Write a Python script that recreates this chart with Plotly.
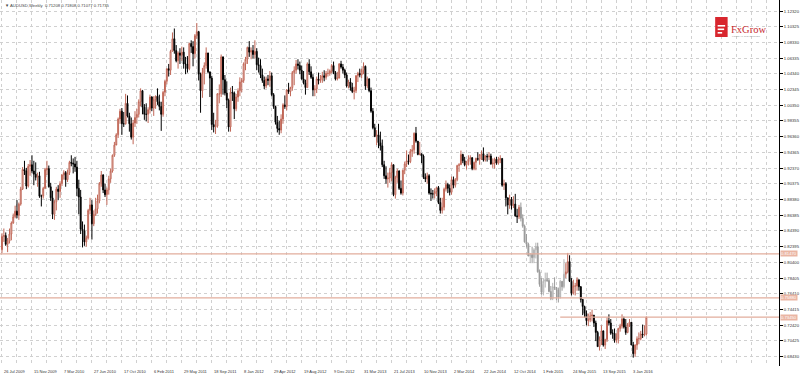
import plotly.graph_objects as go
import pandas as pd

# ---------------- data (AUDUSD weekly) ----------------
first_open = 0.8200
close = [
0.8370,0.8380,0.8270,0.8310,0.8400,0.8540,0.8620,0.8690,0.8640,0.8780,
0.8970,0.9220,0.9200,0.9010,0.9260,0.9280,0.9200,0.9160,0.9120,0.9140,
0.8880,0.8880,0.8980,0.9220,0.9230,0.9000,0.8860,0.8650,0.8810,0.8970,
0.8940,0.9040,0.9150,0.9180,0.9090,0.9180,0.9310,0.9300,0.9290,0.9250,
0.8980,0.8870,0.8460,0.8440,0.8300,0.8350,0.8700,0.8770,0.8530,0.8650,
0.8720,0.8820,0.9040,0.9150,0.8960,0.8900,0.8960,0.9100,0.9200,0.9400,
0.9530,0.9660,0.9860,0.9960,0.9800,0.9800,1.0060,0.9900,0.9800,0.9630,
0.9810,0.9880,0.9920,1.0080,1.0220,1.0010,0.9920,0.9920,0.9980,1.0140,
1.0000,1.0110,1.0150,1.0080,1.0020,0.9920,1.0200,1.0340,1.0500,1.0480,
1.0720,1.0880,1.0730,1.0600,1.0700,1.0670,1.0710,1.0560,1.0560,1.0500,
1.0820,1.0780,1.0690,1.0920,1.0970,1.0430,1.0220,1.0450,1.0540,1.0700,
1.0460,1.0380,0.9790,0.9760,0.9770,1.0180,1.0180,1.0650,1.0360,1.0190,
1.0100,0.9760,1.0200,1.0190,0.9990,1.0140,1.0220,1.0330,1.0350,1.0560,
1.0620,1.0770,1.0710,1.0730,1.0680,1.0720,1.0550,1.0540,1.0420,1.0350,
1.0280,1.0370,1.0350,1.0410,1.0170,1.0020,0.9820,0.9740,0.9720,0.9860,
1.0040,1.0020,1.0230,1.0210,1.0260,1.0450,1.0480,1.0560,1.0540,1.0480,
1.0370,1.0320,1.0260,1.0560,1.0460,1.0390,1.0230,1.0240,1.0370,1.0350,
1.0360,1.0410,1.0390,1.0440,1.0440,1.0470,1.0540,1.0450,1.0370,1.0380,
1.0560,1.0520,1.0480,1.0420,1.0280,1.0330,1.0260,1.0210,1.0220,1.0410,
1.0440,1.0420,1.0480,1.0530,1.0280,1.0370,1.0220,0.9960,0.9750,0.9640,
0.9660,0.9560,0.9520,0.9280,0.9140,0.9100,0.9110,0.9180,0.9280,0.8900,
0.9120,0.9200,0.8980,0.8920,0.9210,0.9290,0.9330,0.9320,0.9450,0.9470,
0.9680,0.9580,0.9410,0.9420,0.9390,0.9120,0.9100,0.9140,0.8920,0.8910,
0.8910,0.8940,0.8990,0.8800,0.8700,0.8740,0.8970,0.9030,0.8980,0.8930,
0.9090,0.9020,0.9090,0.9270,0.9280,0.9410,0.9330,0.9280,0.9320,0.9350,
0.9370,0.9230,0.9310,0.9360,0.9350,0.9410,0.9420,0.9340,0.9390,0.9380,
0.9390,0.9290,0.9300,0.9350,0.9300,0.9340,0.9360,0.9020,0.9040,0.8860,
0.8770,0.8840,0.8760,0.8780,0.8630,0.8620,0.8740,0.8600,0.8500,0.8300,
0.8270,0.8120,0.8140,0.8100,0.8200,0.8240,0.7920,0.7760,0.7660,0.7800,
0.7820,0.7810,0.7670,0.7580,0.7730,0.7720,0.7690,0.7600,0.7800,0.7730,
0.7890,0.7920,0.8050,0.7800,0.7650,0.7740,0.7740,0.7820,0.7730,0.7570,
0.7480,0.7390,0.7300,0.7310,0.7360,0.7370,0.7270,0.7150,0.6970,0.7060,
0.7170,0.6990,0.7060,0.7300,0.7270,0.7140,0.7140,0.7050,0.7070,0.7200,
0.7230,0.7320,0.7220,0.7150,0.7250,0.7280,0.6990,0.6880,0.6990,0.7070,
0.7070,0.7130,0.7120,0.7130,0.7345]
high = [
0.8410,0.8470,0.8420,0.8350,0.8470,0.8560,0.8660,0.8760,0.8830,0.8800,
0.9000,0.9250,0.9330,0.9240,0.9290,0.9340,0.9400,0.9330,0.9310,0.9180,
0.9190,0.8900,0.9000,0.9240,0.9330,0.9270,0.9050,0.8950,0.8830,0.9000,
0.9020,0.9070,0.9160,0.9210,0.9200,0.9220,0.9330,0.9400,0.9360,0.9380,
0.9330,0.9090,0.8960,0.8560,0.8520,0.8380,0.8720,0.8860,0.8830,0.8700,
0.8860,0.8900,0.9060,0.9200,0.9160,0.9040,0.8990,0.9140,0.9230,0.9410,
0.9570,0.9680,0.9880,0.9990,1.0000,0.9950,1.0180,1.0160,0.9940,0.9880,
0.9850,0.9960,0.9990,1.0110,1.0250,1.0230,1.0050,1.0060,1.0010,1.0170,
1.0150,1.0150,1.0160,1.0250,1.0170,1.0080,1.0220,1.0360,1.0500,1.0560,
1.0740,1.0960,1.1010,1.0800,1.0720,1.0760,1.0780,1.0770,1.0650,1.0660,
1.0830,1.0860,1.0850,1.0940,1.1080,1.0980,1.0450,1.0510,1.0580,1.0770,
1.0700,1.0460,1.0410,0.9940,0.9850,1.0190,1.0300,1.0680,1.0640,1.0420,
1.0340,1.0120,1.0260,1.0280,1.0210,1.0180,1.0250,1.0390,1.0380,1.0580,
1.0650,1.0780,1.0850,1.0770,1.0800,1.0860,1.0760,1.0640,1.0620,1.0500,
1.0400,1.0400,1.0420,1.0470,1.0450,1.0190,1.0030,0.9900,0.9840,0.9920,
1.0060,1.0160,1.0240,1.0320,1.0270,1.0470,1.0530,1.0610,1.0620,1.0590,
1.0540,1.0470,1.0360,1.0580,1.0620,1.0530,1.0430,1.0290,1.0400,1.0450,
1.0420,1.0460,1.0480,1.0470,1.0500,1.0490,1.0560,1.0590,1.0470,1.0460,
1.0570,1.0600,1.0560,1.0500,1.0450,1.0360,1.0380,1.0320,1.0270,1.0420,
1.0460,1.0500,1.0500,1.0580,1.0540,1.0400,1.0380,1.0260,1.0000,0.9800,
0.9720,0.9800,0.9700,0.9600,0.9330,0.9260,0.9180,0.9240,0.9310,0.9280,
0.9140,0.9230,0.9210,0.9080,0.9220,0.9320,0.9460,0.9410,0.9480,0.9530,
0.9690,0.9760,0.9580,0.9570,0.9420,0.9410,0.9170,0.9180,0.9160,0.8980,
0.8960,0.8980,0.9000,0.9010,0.8860,0.8860,0.8990,0.9080,0.9050,0.9030,
0.9130,0.9130,0.9110,0.9280,0.9300,0.9460,0.9420,0.9380,0.9330,0.9400,
0.9400,0.9360,0.9320,0.9370,0.9440,0.9410,0.9460,0.9500,0.9400,0.9420,
0.9440,0.9420,0.9360,0.9370,0.9380,0.9380,0.9400,0.9360,0.9090,0.9060,
0.8830,0.8900,0.8870,0.8880,0.8910,0.8720,0.8770,0.8800,0.8650,0.8520,
0.8400,0.8290,0.8160,0.8240,0.8220,0.8290,0.8290,0.7950,0.7840,0.7840,
0.7910,0.7910,0.7840,0.7740,0.7780,0.7850,0.7710,0.7720,0.7820,0.7800,
0.8080,0.8030,0.8160,0.8130,0.7840,0.7820,0.7780,0.7850,0.7820,0.7740,
0.7560,0.7490,0.7430,0.7390,0.7410,0.7440,0.7370,0.7300,0.7170,0.7100,
0.7240,0.7160,0.7070,0.7340,0.7380,0.7320,0.7190,0.7200,0.7140,0.7210,
0.7260,0.7380,0.7350,0.7320,0.7270,0.7320,0.7270,0.7030,0.7000,0.7100,
0.7150,0.7170,0.7250,0.7240,0.7350]
low = [
0.8160,0.8300,0.8250,0.8170,0.8280,0.8320,0.8530,0.8600,0.8600,0.8580,
0.8760,0.8960,0.9150,0.8970,0.8990,0.9140,0.9170,0.9020,0.9080,0.9000,
0.8860,0.8750,0.8850,0.8970,0.9150,0.8990,0.8820,0.8590,0.8580,0.8700,
0.8830,0.8860,0.9010,0.9090,0.9000,0.9060,0.9150,0.9260,0.9170,0.9190,
0.8880,0.8650,0.8400,0.8230,0.8250,0.8240,0.8330,0.8650,0.8330,0.8500,
0.8630,0.8660,0.8790,0.9000,0.8920,0.8870,0.8770,0.8900,0.9050,0.9180,
0.9380,0.9540,0.9620,0.9800,0.9660,0.9760,0.9790,0.9880,0.9700,0.9600,
0.9540,0.9760,0.9800,0.9880,1.0020,0.9920,0.9850,0.9830,0.9810,0.9930,
0.9960,0.9900,0.9990,1.0040,0.9970,0.9710,0.9890,1.0150,1.0300,1.0400,
1.0420,1.0720,1.0690,1.0580,1.0500,1.0560,1.0600,1.0500,1.0430,1.0450,
1.0480,1.0700,1.0530,1.0630,1.0880,1.0350,0.9940,1.0130,1.0300,1.0500,
1.0440,1.0140,0.9720,0.9690,0.9670,0.9750,1.0060,1.0140,1.0170,1.0160,
1.0000,0.9700,0.9700,1.0090,0.9860,0.9960,1.0080,1.0150,1.0200,1.0320,
1.0480,1.0560,1.0650,1.0620,1.0630,1.0630,1.0480,1.0450,1.0380,1.0320,
1.0240,1.0250,1.0290,1.0270,1.0150,0.9990,0.9790,0.9690,0.9660,0.9680,
0.9800,0.9990,0.9970,1.0180,1.0150,1.0220,1.0290,1.0440,1.0490,1.0430,
1.0360,1.0300,1.0170,1.0260,1.0420,1.0370,1.0150,1.0150,1.0190,1.0300,
1.0320,1.0320,1.0340,1.0360,1.0400,1.0410,1.0440,1.0430,1.0350,1.0350,
1.0390,1.0500,1.0440,1.0380,1.0260,1.0250,1.0220,1.0190,1.0110,1.0190,
1.0330,1.0390,1.0380,1.0430,1.0230,1.0250,1.0200,0.9940,0.9730,0.9630,
0.9530,0.9490,0.9460,0.9250,0.9100,0.9040,0.8990,0.9050,0.9070,0.8880,
0.8850,0.9050,0.8960,0.8900,0.8890,0.9160,0.9250,0.9280,0.9300,0.9380,
0.9420,0.9560,0.9400,0.9400,0.9300,0.9100,0.9060,0.9040,0.8900,0.8820,
0.8850,0.8850,0.8880,0.8780,0.8660,0.8660,0.8700,0.8940,0.8920,0.8890,
0.8900,0.8980,0.8990,0.9070,0.9190,0.9280,0.9300,0.9260,0.9220,0.9270,
0.9280,0.9210,0.9210,0.9210,0.9330,0.9280,0.9340,0.9320,0.9320,0.9320,
0.9340,0.9280,0.9240,0.9230,0.9280,0.9280,0.9300,0.9000,0.8960,0.8750,
0.8650,0.8720,0.8710,0.8730,0.8620,0.8540,0.8590,0.8560,0.8480,0.8290,
0.8230,0.8120,0.8030,0.8030,0.8030,0.8090,0.7910,0.7730,0.7630,0.7620,
0.7720,0.7790,0.7660,0.7560,0.7560,0.7690,0.7560,0.7530,0.7580,0.7680,
0.7710,0.7840,0.7900,0.7790,0.7620,0.7630,0.7620,0.7680,0.7680,0.7530,
0.7370,0.7340,0.7240,0.7230,0.7280,0.7290,0.7220,0.7040,0.6970,0.6920,
0.6990,0.6970,0.6940,0.7030,0.7240,0.7120,0.7070,0.7020,0.7020,0.7010,
0.7160,0.7200,0.7200,0.7120,0.7140,0.7220,0.6990,0.6830,0.6840,0.6930,
0.7000,0.7050,0.7080,0.7100,0.7110]

grey_weeks = (277, 300)          # candles drawn in grey (early 2015)
levels = [0.8147, 0.7588, 0.7345]  # horizontal lines
level_labels = ["0.81470", "0.75880", "0.73450"]

x_labels = ["26 Jul 2009", "15 Nov 2009", "7 Mar 2010", "27 Jun 2010", "17 Oct 2010",
            "6 Feb 2011", "29 May 2011", "18 Sep 2011", "8 Jan 2012", "29 Apr 2012",
            "19 Aug 2012", "9 Dec 2012", "31 Mar 2013", "21 Jul 2013", "10 Nov 2013",
            "2 Mar 2014", "22 Jun 2014", "12 Oct 2014", "1 Feb 2015", "24 May 2015",
            "13 Sep 2015", "3 Jan 2016"]

y_tick_vals = [1.12320, 1.10325, 1.08330, 1.06335, 1.04340, 1.02345, 1.00350, 0.98355,
               0.96360, 0.94365, 0.92370, 0.90375, 0.88380, 0.86385, 0.84390, 0.82395,
               0.80400, 0.78405, 0.76410, 0.74415, 0.72420, 0.70425, 0.68430]
y_tick_text = ["%.5f" % v for v in y_tick_vals]

header = "\u25BC AUDUSD,Weekly  0.71208 0.71808 0.71077 0.71735"

# ---------------- layout geometry ----------------
W, H = 800, 376
PL, PR, PT, PB = 0, 19, 0, 10
plot_w = W - PL - PR
plot_h = H - PT - PB
px_per_week = 1.878
start = pd.Timestamp("2009-07-26")
x0 = start - pd.Timedelta(days=7 * 2 / px_per_week)
x1 = x0 + pd.Timedelta(days=7 * plot_w / px_per_week)
y_lo, y_hi = 0.67239, 1.13721

dates = pd.date_range(start, periods=len(close), freq="7D")
opens = [first_open] + close[:-1]

fig = go.Figure()

def add_candles(idx, up_col, up_fill, dn_col, dn_fill):
    fig.add_trace(go.Candlestick(
        x=[dates[i] for i in idx], open=[opens[i] for i in idx],
        high=[high[i] for i in idx], low=[low[i] for i in idx],
        close=[close[i] for i in idx],
        increasing=dict(line=dict(color=up_col, width=1), fillcolor=up_fill),
        decreasing=dict(line=dict(color=dn_col, width=1), fillcolor=dn_fill),
        whiskerwidth=0, showlegend=False, hoverinfo="skip"))

n = len(close)
normal = [i for i in range(n) if not (grey_weeks[0] <= i <= grey_weeks[1])]
grey = [i for i in range(n) if grey_weeks[0] <= i <= grey_weeks[1]]
add_candles(normal, "#c06656", "#ffffff", "#000000", "#000000")
add_candles(grey, "#b4b4b4", "#ffffff", "#9a9a9a", "#9a9a9a")

shapes = []
line_col = "#e2ad9c"
shapes.append(dict(type="line", xref="paper", yref="y", x0=0, x1=1, y0=levels[0], y1=levels[0],
                   line=dict(color=line_col, width=1.3)))
shapes.append(dict(type="line", xref="paper", yref="y", x0=0, x1=1, y0=levels[1], y1=levels[1],
                   line=dict(color=line_col, width=1.3)))
shapes.append(dict(type="line", xref="x", yref="y", x0=dates[298], x1=x1, y0=levels[2], y1=levels[2],
                   line=dict(color=line_col, width=1.3)))

def px(xp):
    return (xp - PL) / plot_w
def py(yp):
    return 1 - (yp - PT) / plot_h

# logo
shapes.append(dict(type="rect", xref="paper", yref="paper", x0=px(717), x1=px(729.5),
                   y0=py(37), y1=py(17), fillcolor="#d8262e", line=dict(width=0)))
for (a, b, yy) in [(719.5, 727, 25), (719.5, 726, 28.5), (719.5, 724, 32)]:
    shapes.append(dict(type="rect", xref="paper", yref="paper", x0=px(a), x1=px(b),
                       y0=py(yy + 1.6), y1=py(yy), fillcolor="#ffffff", line=dict(width=0)))

annotations = []
annotations.append(dict(xref="paper", yref="paper", x=px(731), y=py(30), xanchor="left",
                        yanchor="middle", text="FxGrow", showarrow=False,
                        font=dict(family="Liberation Serif", size=10.5, color="#c8282e")))
annotations.append(dict(xref="paper", yref="paper", x=px(732), y=py(36), xanchor="left",
                        yanchor="middle", text="FOREX & CFD BROKER", showarrow=False,
                        font=dict(family="Liberation Sans", size=2.5, color="#999999")))
annotations.append(dict(xref="paper", yref="paper", x=px(3), y=py(5), xanchor="left",
                        yanchor="middle", text=header, showarrow=False,
                        font=dict(family="Liberation Sans", size=4.2, color="#444444")))

label_dates = pd.to_datetime(x_labels, format="%d %b %Y")
for d, t in zip(label_dates, x_labels):
    annotations.append(dict(xref="x", yref="paper", x=d, y=0, xanchor="left", yanchor="top",
                            yshift=-1, text=t, showarrow=False,
                            font=dict(family="Liberation Sans", size=4, color="#333333")))

for lv, t in zip(levels, level_labels):
    annotations.append(dict(xref="paper", yref="y", x=1, y=lv, xanchor="left", yanchor="middle",
                            xshift=1, text=t, showarrow=False, bgcolor="#eab5a3", borderpad=0,
                            font=dict(family="Liberation Sans", size=4.2, color="#ffffff")))

fig.update_layout(
    width=W, height=H, margin=dict(l=PL, r=PR, t=PT, b=PB, pad=0),
    paper_bgcolor="#ffffff", plot_bgcolor="#ffffff",
    shapes=shapes, annotations=annotations, showlegend=False,
    xaxis=dict(type="date", range=[x0, x1], rangeslider=dict(visible=False),
               tick0=start, dtick=7 * 8 * 86400000, showticklabels=False,
               showgrid=True, gridcolor="#d0d0d0", griddash="dot", gridwidth=1,
               zeroline=False, showline=False, ticks=""),
    yaxis=dict(range=[y_lo, y_hi], side="right", tickmode="array", tickvals=y_tick_vals,
               ticktext=y_tick_text, showgrid=True, gridcolor="#d0d0d0", griddash="dot",
               gridwidth=1, zeroline=False, showline=True, linecolor="#000000", linewidth=1,
               ticks="outside", ticklen=3, tickcolor="#000000",
               tickfont=dict(family="Liberation Sans", size=4.2, color="#333333")),
)

fig.write_html("out.html")
